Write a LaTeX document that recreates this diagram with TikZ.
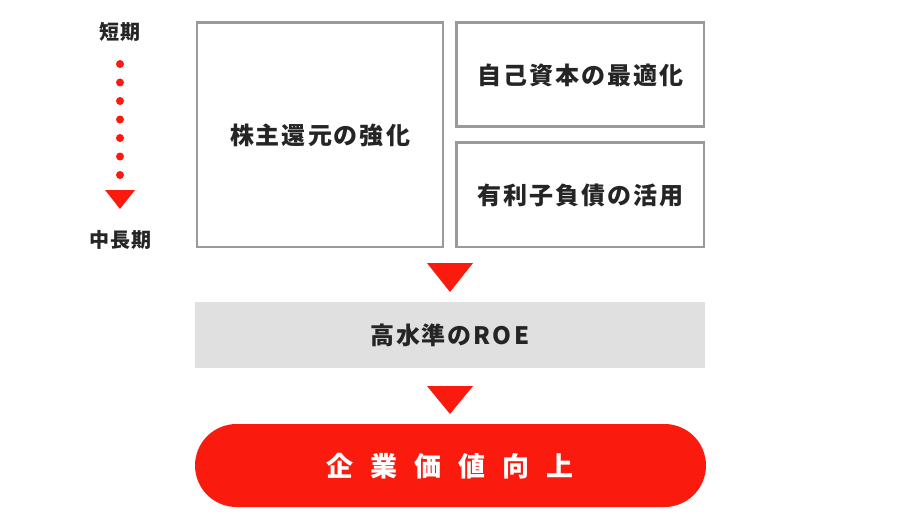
\documentclass[tikz,border=0pt]{standalone}
\usepackage{fontspec}
\newfontfamily\jp{Noto Sans CJK JP}
\definecolor{accent}{HTML}{FA1A0E}
\definecolor{frame}{HTML}{9A9A9A}
\definecolor{band}{HTML}{E0E0E0}
\definecolor{ink}{HTML}{252525}
\makeatletter
\newcommand\spacedtext[2]{\def\my@sep{}\@tfor\my@ch:=#2\do{\my@sep\my@ch\def\my@sep{\kern#1}}}
\makeatother
\tikzset{
  boxframe/.style={draw=frame, line width=2.7pt, fill=white},
  boxtext/.style={font=\jp\bfseries\fontsize{24}{28}\selectfont, text=ink, inner sep=0pt},
  sidetext/.style={font=\jp\bfseries\fontsize{20}{24}\selectfont, text=ink, inner sep=0pt},
  pointer/.style={fill=accent, draw=none},
  reddot/.style={circle, fill=accent, minimum size=8pt, inner sep=0pt},
}
\begin{document}
\begin{tikzpicture}[x=1pt, y=-1pt]
\useasboundingbox (0,0) rectangle (900,527);
% left time axis
\node[sidetext] (short) at (120,32) {\spacedtext{1pt}{短期}};
\foreach \i in {0,...,6} {
  \node[reddot] (d\i) at (120,{64+18.5*\i}) {};
}
\coordinate (ltip) at (120,209);
\fill[pointer] (105,190) -- (135,190) -- (ltip) -- cycle;
\node[sidetext] (long) at (120,240) {\spacedtext{1pt}{中長期}};
% boxes
\draw[boxframe] (197,22.5) rectangle (443,247);
\node[boxtext] (ret) at (320,135) {\spacedtext{2pt}{株主還元の強化}};
\draw[boxframe] (456.5,22.5) rectangle (704,126.5);
\node[boxtext] (equity) at (580.5,75) {\spacedtext{2pt}{自己資本の最適化}};
\draw[boxframe] (456.5,142.5) rectangle (704,247);
\node[boxtext] (debt) at (580.5,195) {\spacedtext{2pt}{有利子負債の活用}};
% arrow 1
\coordinate (t1) at (450,292);
\fill[pointer] (427,263) -- (473,263) -- (t1) -- cycle;
% band
\fill[band] (195,302) rectangle (705,368);
\node[boxtext] (roe) at (450,335.5) {\spacedtext{1.5pt}{高水準の}\kern2pt R\kern2.5pt O\kern2.5pt E};
% arrow 2
\coordinate (t2) at (450,414);
\fill[pointer] (427,386) -- (473,386) -- (t2) -- cycle;
% pill
\fill[accent, rounded corners=41.5pt] (195,424) rectangle (706,507);
\node[font=\jp\bfseries\fontsize{27}{31}\selectfont, text=white, inner sep=0pt] (value) at (450,466) {\spacedtext{17pt}{企業価値向上}};
\end{tikzpicture}
\end{document}
